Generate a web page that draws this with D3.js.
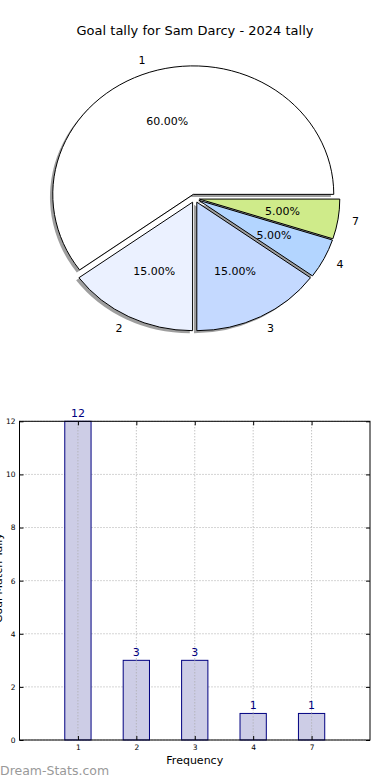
<!DOCTYPE html>
<html>
<head>
<meta charset="utf-8">
<script src="https://cdn.jsdelivr.net/npm/d3@7"></script>
<style>
  body { margin: 0; background: #fff; }
  svg { display: block; font-family: "DejaVu Sans", sans-serif; }
</style>
</head>
<body>
<div id="chart"></div>
<script>
// data
const tallies = ["1", "2", "3", "4", "7"];
const counts = [12, 3, 3, 1, 1];
const sliceColors = ["#ffffff", "#ebf1ff", "#c4d9ff", "#b3d5ff", "#cfeb8a"];
const yTicks = [0, 2, 4, 6, 8, 10, 12];
const titleText = "Goal tally for Sam Darcy - 2024 tally";

const W = 390, H = 780;
const svg = d3.select("#chart").append("svg")
  .attr("width", W).attr("height", H);

/////////////////// pie
const cx = 194.7, cy = 198.4, rx = 140.5, ry = 128.5;
const explode = 0.033;

svg.append("text")
  .attr("x", 195).attr("y", 35)
  .attr("text-anchor", "middle")
  .style("font-size", "13px")
  .text(titleText);

// matplotlib style: start at 3 o'clock, counterclockwise
let pie = d3.pie().sort(null)
  .startAngle(Math.PI / 2)
  .endAngle(Math.PI / 2 - 2 * Math.PI);
let arcs = pie(counts);
let total = d3.sum(counts);
let arc = d3.arc().innerRadius(0).outerRadius(1);

let mid = d => (d.startAngle + d.endAngle) / 2;
let offX = (d, k) => Math.sin(mid(d)) * k * rx;
let offY = (d, k) => -Math.cos(mid(d)) * k * ry;

let gPie = svg.append("g");

// shadows first
gPie.selectAll(".shadow")
  .data(arcs).enter().append("path")
  .attr("class", "shadow")
  .attr("d", arc)
  .attr("transform", d => `translate(${cx + offX(d, explode) - 0.02 * rx},${cy + offY(d, explode) + 0.02 * ry}) scale(${rx},${ry})`)
  .style("fill", "#000")
  .style("opacity", 0.38);

gPie.selectAll(".wedge")
  .data(arcs).enter().append("path")
  .attr("class", "wedge")
  .attr("d", arc)
  .attr("transform", d => `translate(${cx + offX(d, explode)},${cy + offY(d, explode)}) scale(${rx},${ry})`)
  .style("fill", (d, i) => sliceColors[i])
  .style("stroke", "#000")
  .style("stroke-width", 1)
  .attr("vector-effect", "non-scaling-stroke");

// outer labels
gPie.selectAll(".lab")
  .data(arcs).enter().append("text")
  .attr("class", "lab")
  .attr("x", d => cx + offX(d, explode + 1.1))
  .attr("y", d => cy + offY(d, explode + 1.1))
  .attr("dy", "0.35em")
  .attr("text-anchor", d => Math.sin(mid(d)) > 0 ? "start" : "end")
  .style("font-size", "11px")
  .text((d, i) => tallies[i]);

// percent labels
gPie.selectAll(".pct")
  .data(arcs).enter().append("text")
  .attr("class", "pct")
  .attr("x", d => cx + offX(d, explode + 0.6))
  .attr("y", d => cy + offY(d, explode + 0.6))
  .attr("dy", "0.35em")
  .attr("text-anchor", "middle")
  .style("font-size", "11px")
  .text(d => (d.value / total * 100).toFixed(2) + "%");

/////////////////// bars
const bLeft = 19.5, bRight = 370, bTop = 421.3, bBottom = 740;
let x = d3.scaleLinear().domain([-1, tallies.length]).range([bLeft, bRight]);
let y = d3.scaleLinear().domain([0, 12]).range([bBottom, bTop]);
const barW = 0.45;

let gBar = svg.append("g");

// grid
gBar.selectAll(".gx").data(tallies).enter().append("line")
  .attr("x1", (d, i) => x(i)).attr("x2", (d, i) => x(i))
  .attr("y1", bTop).attr("y2", bBottom)
  .style("stroke", "#aaa").style("stroke-dasharray", "1,2");
gBar.selectAll(".gy").data(yTicks).enter().append("line")
  .attr("x1", bLeft).attr("x2", bRight)
  .attr("y1", d => y(d)).attr("y2", d => y(d))
  .style("stroke", "#aaa").style("stroke-dasharray", "1,2");

gBar.selectAll(".bar").data(counts).enter().append("rect")
  .attr("x", (d, i) => x(i - barW / 2))
  .attr("width", x(barW) - x(0))
  .attr("y", d => y(d))
  .attr("height", d => y(0) - y(d))
  .style("fill", "#cdcde6")
  .style("stroke", "#000080")
  .style("stroke-width", 1);

// grid shows through the bars in the reference
gBar.selectAll(".gx2").data(tallies).enter().append("line")
  .attr("x1", (d, i) => x(i)).attr("x2", (d, i) => x(i))
  .attr("y1", (d, i) => y(counts[i])).attr("y2", bBottom)
  .style("stroke", "#aaa").style("stroke-dasharray", "1,2");

gBar.selectAll(".val").data(counts).enter().append("text")
  .attr("x", (d, i) => x(i))
  .attr("y", d => y(d) - 4)
  .attr("text-anchor", "middle")
  .style("font-size", "11px")
  .style("fill", "#000080")
  .text(d => d);

// frame
gBar.append("rect")
  .attr("x", bLeft).attr("y", bTop)
  .attr("width", bRight - bLeft).attr("height", bBottom - bTop)
  .style("fill", "none").style("stroke", "#000").style("stroke-width", 1);

// axes (inward ticks)
let yAxis = d3.axisLeft(y).tickValues(yTicks).tickSize(-4).tickPadding(4);
gBar.append("g").attr("transform", `translate(${bLeft},0)`).call(yAxis)
  .call(g => g.select(".domain").remove())
  .selectAll("text").style("font-size", "7.5px").style("font-family", "DejaVu Sans");
gBar.append("g").attr("transform", `translate(${bRight},0)`)
  .call(d3.axisRight(y).tickValues(yTicks).tickSize(-4).tickFormat(""))
  .call(g => g.select(".domain").remove());

let xAxis = d3.axisBottom(x).tickValues(d3.range(tallies.length))
  .tickFormat(i => tallies[i]).tickSize(-4).tickPadding(5);
gBar.append("g").attr("transform", `translate(0,${bBottom})`).call(xAxis)
  .call(g => g.select(".domain").remove())
  .selectAll("text").style("font-size", "7.5px").style("font-family", "DejaVu Sans");
gBar.append("g").attr("transform", `translate(0,${bTop})`)
  .call(d3.axisTop(x).tickValues(d3.range(tallies.length)).tickSize(-4).tickFormat(""))
  .call(g => g.select(".domain").remove());

svg.append("text")
  .attr("x", x(2)).attr("y", 764)
  .attr("text-anchor", "middle")
  .style("font-size", "11px")
  .text("Frequency");

// y label sits mostly past the left edge, as in the reference
svg.append("text")
  .attr("transform", "translate(2,578) rotate(-90)")
  .attr("text-anchor", "middle")
  .style("font-size", "11px")
  .text("Goal Match Tally");

svg.append("text")
  .attr("x", 0).attr("y", 775)
  .style("font-size", "12.5px")
  .style("fill", "#999")
  .text("Dream-Stats.com");
</script>
</body>
</html>
